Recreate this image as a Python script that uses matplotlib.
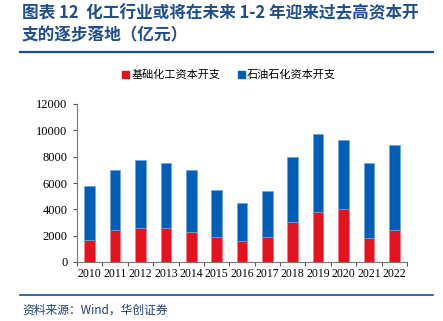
import matplotlib
matplotlib.use("Agg")
import matplotlib.pyplot as plt
from matplotlib.lines import Line2D
from matplotlib.patches import Patch

plt.rcParams['font.family'] = ['Noto Sans CJK SC', 'DejaVu Sans']

years = ['2010', '2011', '2012', '2013', '2014', '2015', '2016',
         '2017', '2018', '2019', '2020', '2021', '2022']
basic_chem = [1700, 2400, 2600, 2550, 2250, 1900, 1600,
              1900, 3050, 3800, 4000, 1800, 2400]
totals = [5750, 6950, 7750, 7500, 7000, 5450, 4450,
          5400, 8000, 9750, 9250, 7550, 8900]
petro_chem = [t - b for t, b in zip(totals, basic_chem)]
yticks = [0, 2000, 4000, 6000, 8000, 10000, 12000]

RED = '#E5131D'
BLUE = '#005EB8'
NAVY = '#1F4E8C'

fig = plt.figure(figsize=(4.43, 3.21), dpi=100)
ax = fig.add_axes([77/443, (321-262)/321, 330/443, 158/321])

x = list(range(len(years)))
ax.bar(x, basic_chem, width=0.42, color=RED, edgecolor='#F08088', linewidth=0.5, zorder=3)
ax.bar(x, petro_chem, width=0.42, bottom=basic_chem, color=BLUE, edgecolor='#6FA3DA',
       linewidth=0.5, zorder=3)

ax.set_xlim(-0.5, len(years) - 0.5)
ax.set_ylim(0, 12000)
ax.set_yticks(yticks)
ax.set_yticklabels([str(v) for v in yticks], family='Liberation Serif', fontsize=9)
ax.set_xticks([i + 0.5 for i in range(-1, len(years))], minor=False)
ax.set_xticklabels([])
ax.set_xticks(x, minor=True)
ax.set_xticklabels(years, minor=True, family='Liberation Serif', fontsize=8.5)
ax.tick_params(axis='x', which='major', length=3, color='#555555', width=0.8, direction='out')
ax.tick_params(axis='x', which='minor', length=0, pad=4)
ax.tick_params(axis='y', length=3, color='#555555', width=0.8, pad=4)
for s in ['top', 'right']:
    ax.spines[s].set_visible(False)
for s in ['left', 'bottom']:
    ax.spines[s].set_color('#777777')
    ax.spines[s].set_linewidth(0.8)

# title
fig.text(22/443, 1 - 13/321, '图表 12  化工行业或将在未来 1-2 年迎来过去高资本开',
         fontsize=12, fontweight='bold', color=NAVY, va='center', ha='left')
fig.text(22/443, 1 - 35/321, '支的逐步落地（亿元）',
         fontsize=12, fontweight='bold', color=NAVY, va='center', ha='left')
fig.add_artist(Line2D([20/443, 433/443], [1 - 52/321, 1 - 52/321],
                      color=NAVY, linewidth=1.6, transform=fig.transFigure))
fig.add_artist(Line2D([20/443, 433/443], [1 - 295/321, 1 - 295/321],
                      color=NAVY, linewidth=1.2, transform=fig.transFigure))
fig.text(22/443, 1 - 310/321, '资料来源：Wind，华创证券', fontsize=8.5, style='italic',
         color='#1F3F75', va='center', ha='left')

# legend
handles = [Patch(color=RED, label='基础化工资本开支'), Patch(color=BLUE, label='石油石化资本开支')]
fig.legend(handles=handles, loc='center', bbox_to_anchor=(229/443, 1 - 75/321), ncol=2,
           frameon=False, fontsize=8, handlelength=0.6, handleheight=0.6,
           handletextpad=0.2, columnspacing=1.6)

fig.savefig('out.png', dpi=100)
